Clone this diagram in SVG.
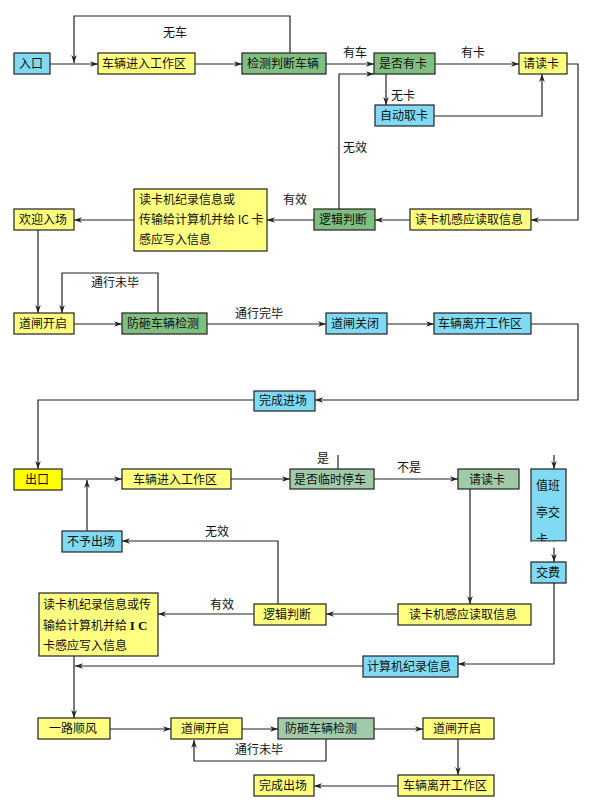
<svg xmlns="http://www.w3.org/2000/svg" width="597" height="810" viewBox="0 0 597 810">
<defs>
<marker id="ah" viewBox="0 0 10 10" refX="10" refY="5" markerWidth="8" markerHeight="8" markerUnits="userSpaceOnUse" orient="auto">
<path d="M0,1.5 L10,5 L0,8.5 L3,5 Z" fill="#222"/>
</marker>
<style>
.b{stroke:#222;stroke-width:1.2}
.bl{fill:#80daf4}
.yl{fill:#ffff80}
.y2{fill:#ffff00}
.gr{fill:#80bf80}
.g2{fill:#a0caa8}
text{font-family:"Noto Sans CJK SC","Liberation Sans",sans-serif;font-size:12px;fill:#111}
.c{fill:none;stroke:#222;stroke-width:1.2}
.a{marker-end:url(#ah)}
</style>
</defs>
<rect width="597" height="810" fill="#fff"/>
<g id="connectors">
<path class="c a" d="M50,64 H98"/>
<path class="c a" d="M195,64 H242"/>
<path class="c a" d="M290,53 V16 H74 V63"/>
<path class="c a" d="M326,64 H374"/>
<path class="c a" d="M435,64 H519"/>
<path class="c a" d="M386,74 V105"/>
<path class="c a" d="M434,116 H542 V74"/>
<path class="c a" d="M567,64 H578 V220 H531"/>
<path class="c a" d="M410,220 H375"/>
<path class="c a" d="M339,209 V74 H374"/>
<path class="c a" d="M314,220 H267"/>
<path class="c a" d="M134,220 H74"/>
<path class="c a" d="M38,230 V313"/>
<path class="c a" d="M74,324 H122"/>
<path class="c a" d="M158,313 V273 H62 V313"/>
<path class="c a" d="M207,324 H326"/>
<path class="c a" d="M387,324 H434"/>
<path class="c a" d="M531,324 H578 V400 H315"/>
<path class="c a" d="M254,400 H38 V469"/>
<path class="c a" d="M62,479 H122"/>
<path class="c a" d="M87,531 V480"/>
<path class="c a" d="M231,479 H290"/>
<path class="c" d="M338,455 V469"/>
<path class="c a" d="M374,479 H458"/>
<path class="c a" d="M554,455 V469"/>
<path class="c a" d="M554,541 V562"/>
<path class="c a" d="M470,489 V604"/>
<path class="c a" d="M278,604 V541 H122"/>
<path class="c a" d="M398,614 H326"/>
<path class="c a" d="M254,614 H158"/>
<path class="c a" d="M554,583 V664 H458"/>
<path class="c a" d="M363,666 H75"/>
<path class="c a" d="M74,656 V718"/>
<path class="c a" d="M110,729 H171"/>
<path class="c a" d="M242,729 H278"/>
<path class="c a" d="M374,729 H423"/>
<path class="c a" d="M326,739 V761 H194 V740"/>
<path class="c a" d="M458,739 V775"/>
<path class="c a" d="M398,786 H314"/>
</g>
<g id="labels">
<text x="163" y="37">无车</text>
<text x="343" y="57">有车</text>
<text x="461" y="57">有卡</text>
<text x="391" y="100">无卡</text>
<text x="343" y="152">无效</text>
<text x="283" y="204">有效</text>
<text x="91" y="287">通行未毕</text>
<text x="235" y="318">通行完毕</text>
<text x="317" y="463">是</text>
<text x="397" y="472">不是</text>
<text x="205" y="536">无效</text>
<text x="210" y="609">有效</text>
<text x="235" y="754">通行未毕</text>
</g>
<g id="n1"><rect class="b bl" x="14" y="53" width="36" height="21"/><text x="19" y="68">入口</text></g>
<g id="n2"><rect class="b yl" x="98" y="53" width="97" height="21"/><text x="102" y="68">车辆进入工作区</text></g>
<g id="n3"><rect class="b gr" x="242" y="53" width="84" height="21"/><text x="247" y="68">检测判断车辆</text></g>
<g id="n4"><rect class="b gr" x="374" y="53" width="61" height="21"/><text x="379" y="68">是否有卡</text></g>
<g id="n5"><rect class="b yl" x="519" y="53" width="48" height="21"/><text x="523" y="68">请读卡</text></g>
<g id="n6"><rect class="b bl" x="375" y="105" width="59" height="21"/><text x="380" y="120">自动取卡</text></g>
<g id="n7"><rect class="b yl" x="410" y="209" width="121" height="21"/><text x="415" y="224">读卡机感应读取信息</text></g>
<g id="n8"><rect class="b gr" x="314" y="209" width="61" height="21"/><text x="319" y="224">逻辑判断</text></g>
<g id="n9"><rect class="b yl" x="134" y="189" width="133" height="62"/><text x="139" y="204">读卡机纪录信息或</text><text x="139" y="224">传输给计算机并给 IC 卡</text><text x="139" y="244">感应写入信息</text></g>
<g id="n10"><rect class="b yl" x="14" y="209" width="60" height="21"/><text x="19" y="224">欢迎入场</text></g>
<g id="n11"><rect class="b yl" x="14" y="313" width="60" height="21"/><text x="19" y="328">道闸开启</text></g>
<g id="n12"><rect class="b gr" x="122" y="313" width="85" height="21"/><text x="127" y="328">防砸车辆检测</text></g>
<g id="n13"><rect class="b bl" x="326" y="313" width="61" height="21"/><text x="331" y="328">道闸关闭</text></g>
<g id="n14"><rect class="b bl" x="434" y="313" width="97" height="21"/><text x="438" y="328">车辆离开工作区</text></g>
<g id="n15"><rect class="b bl" x="254" y="391" width="61" height="20"/><text x="259" y="405">完成进场</text></g>
<g id="n16"><rect class="b y2" x="14" y="469" width="48" height="21"/><text x="25" y="484">出口</text></g>
<g id="n17"><rect class="b yl" x="122" y="469" width="109" height="20"/><text x="133" y="484">车辆进入工作区</text></g>
<g id="n18"><rect class="b g2" x="290" y="469" width="84" height="20"/><text x="294" y="484">是否临时停车</text></g>
<g id="n19"><rect class="b g2" x="458" y="469" width="61" height="20"/><text x="469" y="484">请读卡</text></g>
<g id="n20"><rect class="b bl" x="531" y="469" width="35" height="72"/><text x="536" y="490">值班</text><text x="536" y="517">亭交</text><text x="536" y="544">卡、</text><rect x="532" y="541.6" width="34" height="6" fill="#fff"/></g>
<g id="n21"><rect class="b bl" x="531" y="562" width="35" height="21"/><text x="536" y="577">交费</text></g>
<g id="n22"><rect class="b bl" x="62" y="531" width="60" height="21"/><text x="67" y="546">不予出场</text></g>
<g id="n23"><rect class="b yl" x="398" y="604" width="133" height="21"/><text x="409" y="619">读卡机感应读取信息</text></g>
<g id="n24"><rect class="b yl" x="254" y="604" width="72" height="21"/><text x="263" y="619">逻辑判断</text></g>
<g id="n25"><rect class="b yl" x="39" y="593" width="119" height="63"/><text x="43" y="609">读卡机纪录信息或传</text><text x="43" y="630">输给计算机并给 <tspan font-family="Liberation Serif,serif" font-weight="bold" font-size="13">I C</tspan></text><text x="43" y="650">卡感应写入信息</text></g>
<g id="n26"><rect class="b bl" x="363" y="656" width="95" height="21"/><text x="367" y="671">计算机纪录信息</text></g>
<g id="n27"><rect class="b yl" x="38" y="718" width="72" height="21"/><text x="49" y="733">一路顺风</text></g>
<g id="n28"><rect class="b yl" x="171" y="718" width="71" height="21"/><text x="181" y="733">道闸开启</text></g>
<g id="n29"><rect class="b g2" x="278" y="718" width="96" height="21"/><text x="285" y="733">防砸车辆检测</text></g>
<g id="n30"><rect class="b yl" x="423" y="718" width="71" height="21"/><text x="433" y="733">道闸开启</text></g>
<g id="n31"><rect class="b yl" x="398" y="775" width="96" height="21"/><text x="403" y="790">车辆离开工作区</text></g>
<g id="n32"><rect class="b yl" x="254" y="775" width="60" height="21"/><text x="259" y="790">完成出场</text></g>
</svg>
